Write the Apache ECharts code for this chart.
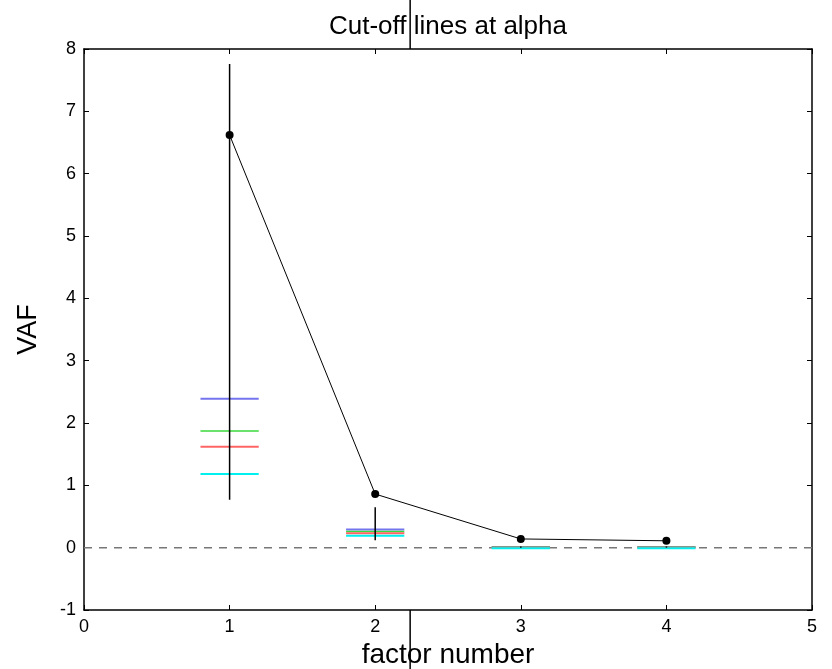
<!DOCTYPE html>
<html>
<head>
<meta charset="utf-8">
<script src="https://cdn.jsdelivr.net/npm/echarts@6/dist/echarts.min.js"></script>
<style>
  html, body { margin: 0; padding: 0; background: #fff; }
  #main { width: 832px; height: 669px; }
</style>
</head>
<body>
<div id="main"></div>
<script>
// factor numbers and observed VAF
var factors = [1, 2, 3, 4];
var vaf = [6.62, 0.86, 0.14, 0.11];
// vertical range bars per factor
var barLow = [0.77, 0.12, 0.0, 0.0];
var barHigh = [7.76, 0.65, 0.02, 0.02];
// cut-off lines for each alpha
var cutBlue = [2.39, 0.29, 0.01, 0.01];
var cutGreen = [1.87, 0.26, 0.005, 0.005];
var cutRed = [1.62, 0.23, 0.0, 0.0];
var cutCyan = [1.18, 0.19, -0.01, -0.01];
var xTicks = [0, 1, 2, 3, 4, 5];
var yTicks = [-1, 0, 1, 2, 3, 4, 5, 6, 7, 8];

var myChart = echarts.init(document.getElementById('main'));
var FONT = 'Liberation Sans, Arial, sans-serif';

function pairs(ys) {
  return factors.map(function (x, i) { return [x, ys[i]]; });
}

// short horizontal segment, +-0.2 around the factor
function cutSeries(name, ys, color, width) {
  return {
    name: name,
    type: 'custom',
    renderItem: function (params, api) {
      var a = api.coord([api.value(0) - 0.2, api.value(1)]);
      var b = api.coord([api.value(0) + 0.2, api.value(1)]);
      return {
        type: 'line',
        shape: { x1: a[0], y1: a[1], x2: b[0], y2: b[1] },
        style: { stroke: color, lineWidth: width }
      };
    },
    data: pairs(ys),
    z: 3
  };
}

function axisBase(extra) {
  return Object.assign({
    type: 'value',
    axisLine: { show: true, onZero: false, lineStyle: { color: '#000', width: 1.5 } },
    axisTick: { show: true, inside: true, length: 5, lineStyle: { color: '#000' } },
    splitLine: { show: false }
  }, extra);
}

var option = {
  animation: false,
  backgroundColor: '#fff',
  grid: { left: 84, right: 20, top: 49, bottom: 59, containLabel: false, outerBoundsMode: 'none' },
  xAxis: [
    axisBase({
      min: xTicks[0], max: xTicks[xTicks.length - 1], interval: 1, position: 'bottom',
      axisLabel: { color: '#000', fontSize: 18, fontFamily: FONT, margin: 8 },
      name: 'factor number', nameLocation: 'middle', nameGap: 31,
      nameTextStyle: { color: '#000', fontSize: 28, fontFamily: FONT }
    }),
    axisBase({
      min: xTicks[0], max: xTicks[xTicks.length - 1], interval: 1, position: 'top',
      axisLabel: { show: false }
    })
  ],
  yAxis: [
    axisBase({
      min: yTicks[0], max: yTicks[yTicks.length - 1], interval: 1, position: 'left',
      axisLabel: { color: '#000', fontSize: 18, fontFamily: FONT, margin: 8 },
      name: 'VAF', nameLocation: 'middle', nameGap: 42,
      nameTextStyle: { color: '#000', fontSize: 27, fontFamily: FONT }
    }),
    axisBase({
      min: yTicks[0], max: yTicks[yTicks.length - 1], interval: 1, position: 'right',
      axisLabel: { show: false }
    })
  ],
  series: [
    {
      type: 'line',
      data: [[xTicks[0], 0], [xTicks[xTicks.length - 1], 0]],
      symbol: 'none',
      lineStyle: { color: '#777', width: 1.5, type: [8, 7] },
      z: 1
    },
    cutSeries('blue', cutBlue, '#7474ee', 2),
    cutSeries('green', cutGreen, '#3ad83a', 1.5),
    cutSeries('red', cutRed, '#ff6464', 2),
    cutSeries('cyan', cutCyan, '#00f0f0', 2),
    {
      name: 'range',
      type: 'custom',
      renderItem: function (params, api) {
        var a = api.coord([api.value(0), api.value(1)]);
        var b = api.coord([api.value(0), api.value(2)]);
        return {
          type: 'line',
          shape: { x1: a[0], y1: a[1], x2: b[0], y2: b[1] },
          style: { stroke: '#000', lineWidth: 1.5 }
        };
      },
      data: factors.map(function (x, i) { return [x, barLow[i], barHigh[i]]; }),
      z: 4
    },
    {
      name: 'VAF',
      type: 'line',
      data: pairs(vaf),
      symbol: 'circle',
      symbolSize: 8,
      itemStyle: { color: '#000' },
      lineStyle: { color: '#000', width: 1 },
      z: 5
    }
  ]
};

myChart.setOption(option);

// title and the stray vertical marker drawn outside the plot box
var markX = myChart.convertToPixel({ gridIndex: 0 }, [2.24, 0])[0];
var boxTop = myChart.convertToPixel({ gridIndex: 0 }, [0, 8])[1];
var boxBottom = myChart.convertToPixel({ gridIndex: 0 }, [0, -1])[1];
var boxMid = (myChart.convertToPixel({ gridIndex: 0 }, [0, 0])[0] +
              myChart.convertToPixel({ gridIndex: 0 }, [5, 0])[0]) / 2;
myChart.setOption({
  graphic: [
    {
      type: 'text', x: boxMid, y: 27,
      style: { text: 'Cut-off lines at alpha', fill: '#000', font: '26px ' + FONT,
               textAlign: 'center', textVerticalAlign: 'middle' }
    },
    { type: 'line', shape: { x1: markX, y1: 0, x2: markX, y2: boxTop }, style: { stroke: '#000', lineWidth: 1.5 } },
    { type: 'line', shape: { x1: markX, y1: boxBottom, x2: markX, y2: 669 }, style: { stroke: '#000', lineWidth: 1.5 } }
  ]
});
</script>
</body>
</html>
